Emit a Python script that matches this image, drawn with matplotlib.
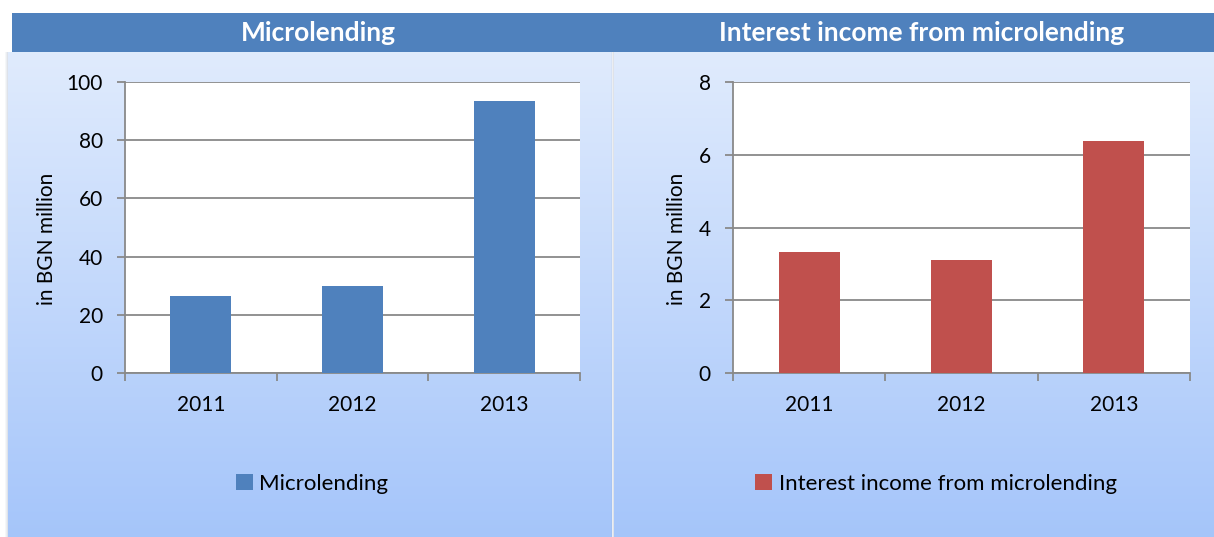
import numpy as np
import matplotlib.pyplot as plt
from matplotlib.patches import Rectangle, Patch

plt.rcParams['font.family'] = ['Lato', 'DejaVu Sans']

years = ['2011', '2012', '2013']
microlending = [26.5, 29.9, 93.5]
interest_income = [3.33, 3.1, 6.38]

titles = ['Microlending', 'Interest income from microlending']
series_names = ['Microlending', 'Interest income from microlending']
y_limits = [(0, 100), (0, 8)]
y_steps = [20, 2]
bar_colors = ['#4f81bd', '#c0504d']

W, H = 1214, 537
fig = plt.figure(figsize=(W / 100, H / 100), dpi=100)
fig.patch.set_facecolor('white')


def fx(px):
    return px / W


def fy(py):
    return 1 - py / H


# gradient panels behind each chart
grad = np.linspace(0, 1, 256).reshape(-1, 1)
top = np.array([0.878, 0.922, 0.992])
bottom = np.array([0.647, 0.773, 0.980])
img = top[None, None, :] * (1 - grad[:, :, None]) + bottom[None, None, :] * grad[:, :, None]
for x0, x1 in [(8, 611), (614, 1214)]:
    bg = fig.add_axes([fx(x0), 0, fx(x1 - x0), fy(52)], zorder=0)
    bg.imshow(img, aspect='auto', extent=[0, 1, 0, 1])
    bg.axis('off')
    # soft shadow on the left edge of each panel
    for i, a in enumerate([0.25, 0.15, 0.07]):
        fig.patches.append(Rectangle((fx(x0 - 1 - i), 0), fx(1), fy(52), transform=fig.transFigure,
                                     facecolor='#7f8fa8', alpha=a, edgecolor='none', zorder=1))

# header bar
fig.patches.append(Rectangle((fx(12), fy(52)), fx(W - 12), fy(13) - fy(52), transform=fig.transFigure,
                             facecolor='#4f81bd', edgecolor='none', zorder=2))
fig.text(fx(318), fy(33), titles[0], color='white', fontsize=19, fontweight='bold',
         ha='center', va='center', zorder=3)
fig.text(fx(922), fy(33), titles[1], color='white', fontsize=19, fontweight='bold',
         ha='center', va='center', zorder=3)

axes_px = [(125, 580), (733, 1190)]
ylabel_x = [-0.171, -0.1225]
legend_x = [312, 936]
data = [microlending, interest_income]
x = np.arange(len(years))

for k in range(2):
    left, right = axes_px[k]
    ax = fig.add_axes([fx(left), fy(373), fx(right - left), fy(82) - fy(373)], zorder=5)
    ax.set_facecolor('white')
    ax.bar(x, data[k], width=0.4, color=bar_colors[k], zorder=3)
    ax.set_xlim(-0.5, 2.5)
    ax.set_ylim(*y_limits[k])
    ax.set_yticks(np.arange(y_limits[k][0], y_limits[k][1] + 0.01, y_steps[k]))
    ax.grid(axis='y', color='#898989', linewidth=1.3, zorder=1)
    for s in ['top', 'right']:
        ax.spines[s].set_visible(False)
    for s in ['left', 'bottom']:
        ax.spines[s].set_color('#898989')
        ax.spines[s].set_linewidth(1.3)
    ax.set_xticks([-0.5, 0.5, 1.5, 2.5])
    ax.set_xticklabels([])
    ax.set_xticks(x, minor=True)
    ax.set_xticklabels(years, minor=True, fontsize=15)
    ax.tick_params(axis='x', which='major', direction='out', length=6, width=1.3, color='#898989')
    ax.tick_params(axis='x', which='minor', length=0, pad=16)
    ax.tick_params(axis='y', direction='out', length=6, width=1.3, color='#898989',
                   labelsize=15, pad=10)
    ax.set_ylabel('in BGN million', fontsize=15, va='center')
    ax.yaxis.set_label_coords(ylabel_x[k], 0.46)

    handle = Patch(facecolor=bar_colors[k], edgecolor='none')
    fig.legend([handle], [series_names[k]], loc='center',
               bbox_to_anchor=(fx(legend_x[k]), fy(484)), frameon=False, fontsize=16,
               handlelength=0.75, handleheight=0.75, handletextpad=0.3)

fig.savefig('out.png', dpi=100)
